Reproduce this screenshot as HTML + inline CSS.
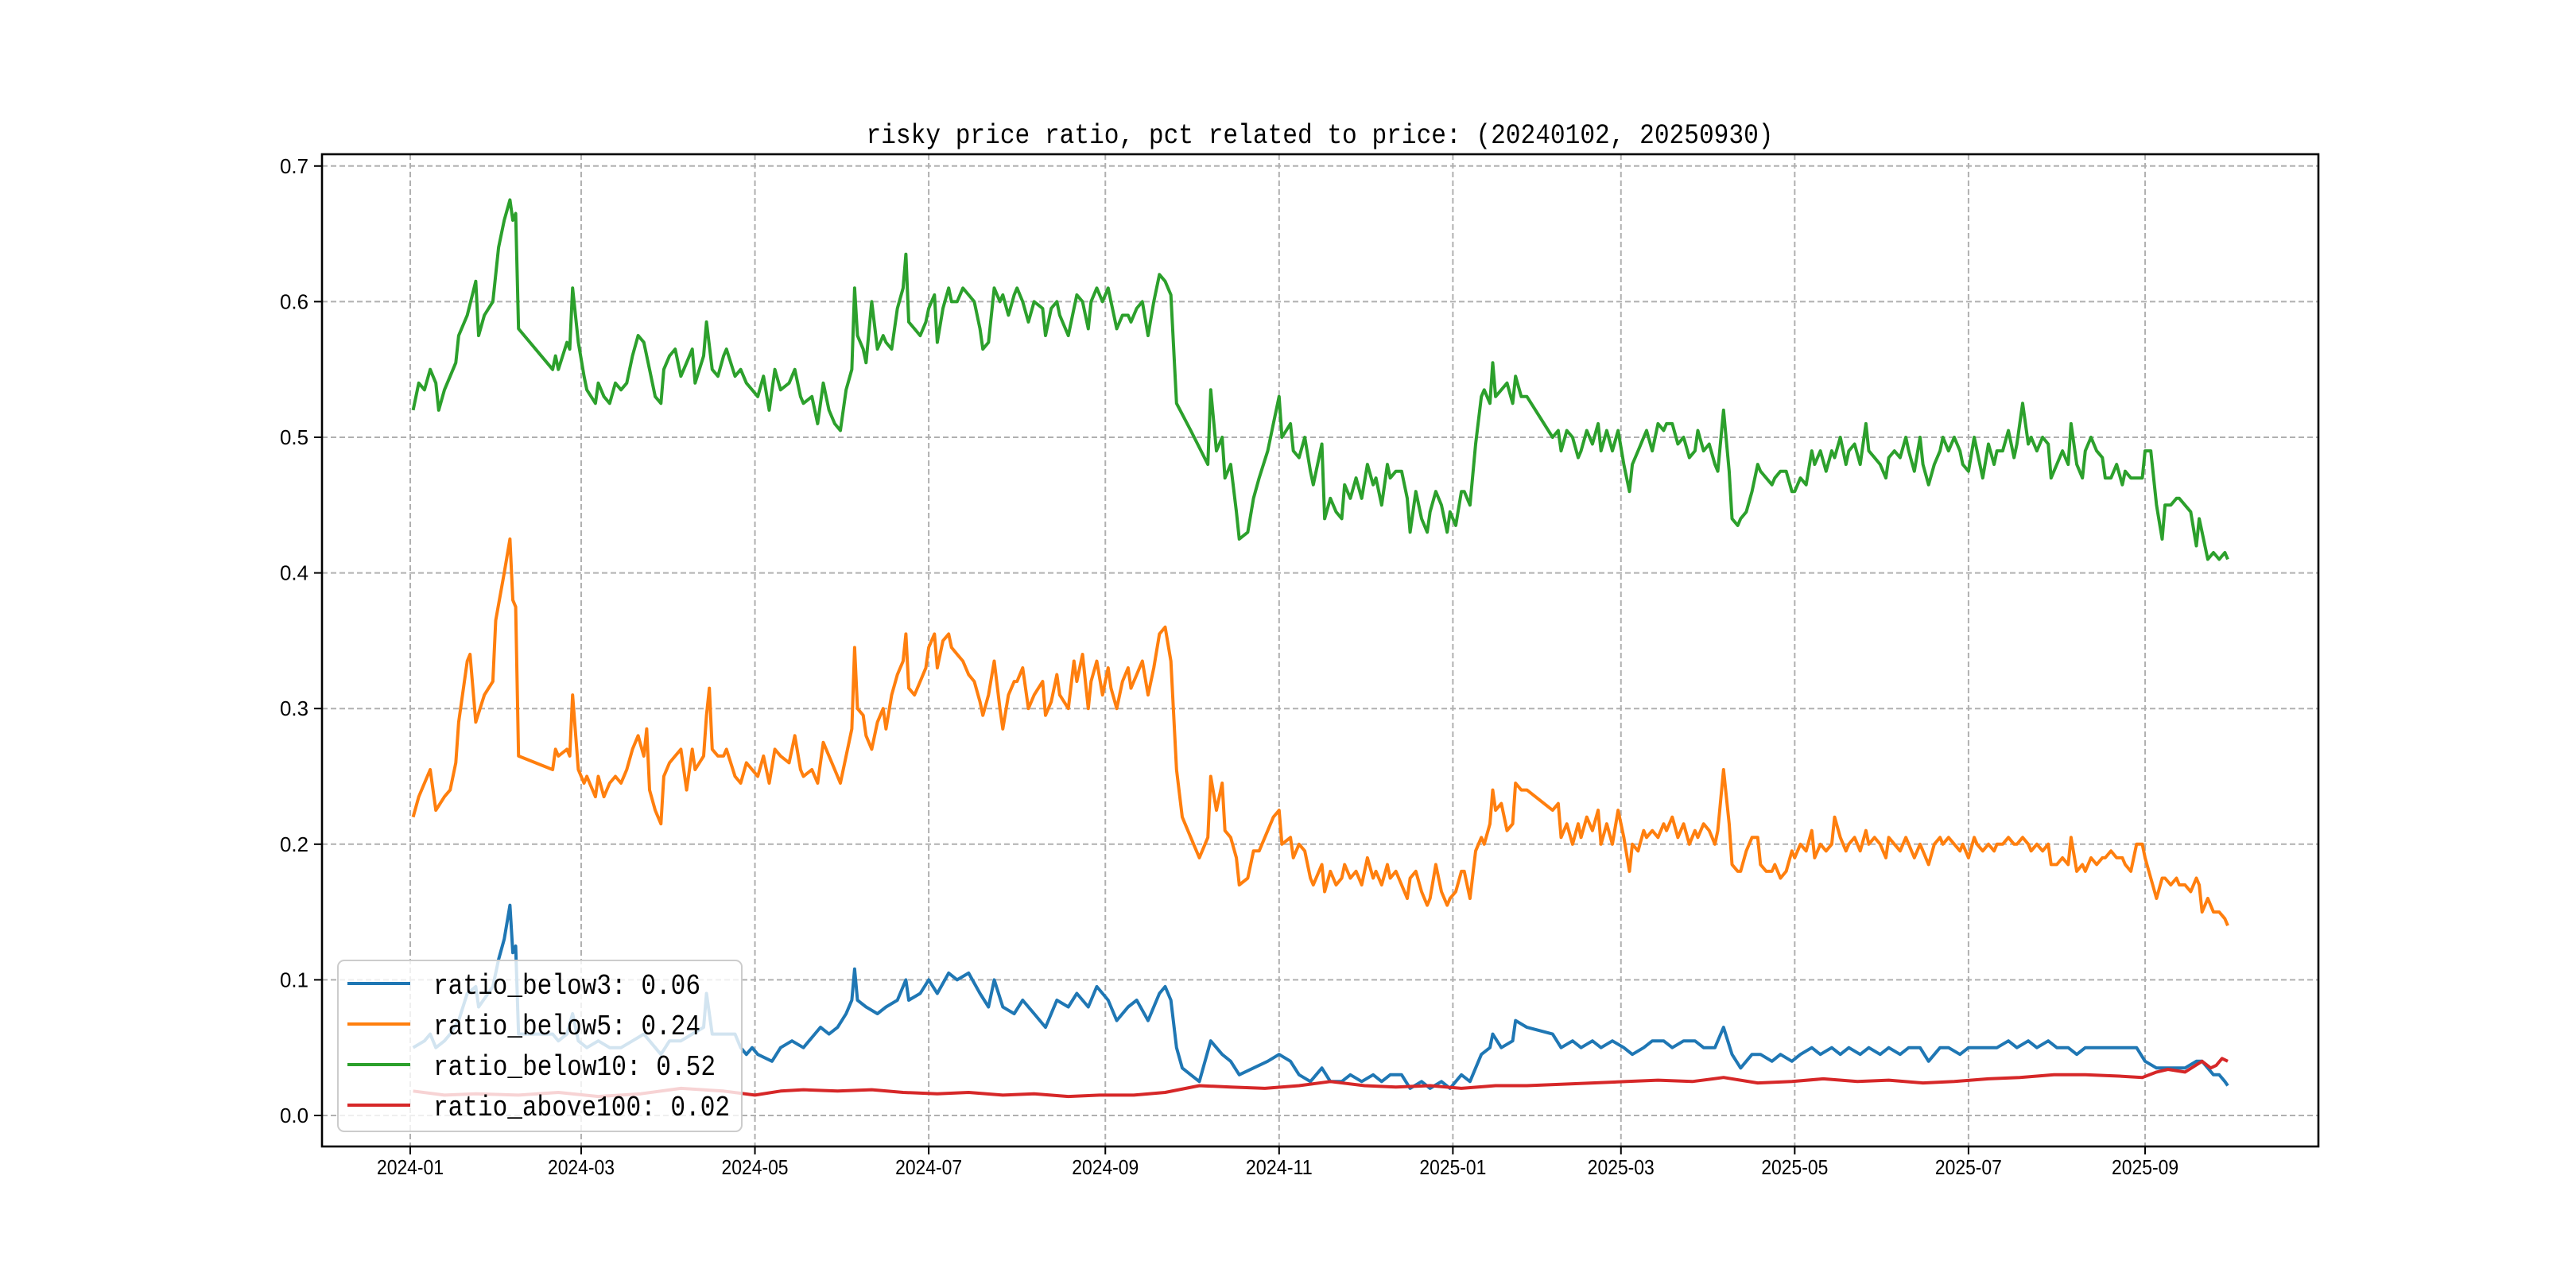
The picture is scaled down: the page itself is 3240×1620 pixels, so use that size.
<!DOCTYPE html>
<html><head><meta charset="utf-8"><style>html,body{margin:0;padding:0;background:#fff}svg{display:block}</style></head>
<body>
<svg id="chart" xmlns="http://www.w3.org/2000/svg" width="3240" height="1620" viewBox="0 0 3240 1620">
<rect width="3240" height="1620" fill="#fff"/>
<g id="grid"></g>
<g id="series"></g>
<rect x="405" y="194" width="2511" height="1248" fill="none" stroke="#000" stroke-width="2.6"/>
<g id="axes"></g>
<text x="1660" y="180" text-anchor="middle" font-family="Liberation Mono, monospace" font-size="35" textLength="1141" lengthAdjust="spacingAndGlyphs">risky price ratio, pct related to price: (20240102, 20250930)</text>
<g id="legend"></g>
</svg>
<script>
const yTicks = [0.0, 0.1, 0.2, 0.3, 0.4, 0.5, 0.6, 0.7];
const yTickLabels = ["0.0","0.1","0.2","0.3","0.4","0.5","0.6","0.7"];
const xTickDays = [0, 60, 121, 182, 244, 305, 366, 425, 486, 547, 609];
const xTickLabels = ["2024-01","2024-03","2024-05","2024-07","2024-09","2024-11","2025-01","2025-03","2025-05","2025-07","2025-09"];
const seriesNames = ["ratio_below3: 0.06","ratio_below5: 0.24","ratio_below10: 0.52","ratio_above100: 0.02"];

const greenDays = [1,3,5,7,9,10,12,14,16,17,20,23,24,26,29,31,33,35,36,37,38,50,51,52,55,56,57,59,61,62,65,66,68,70,72,74,76,78,80,82,84,86,88,89,91,93,95,97,99,100,103,104,106,108,110,111,114,116,118,120,122,124,126,128,130,133,135,137,138,141,143,145,147,149,151,153,155,156,157,159,160,162,164,166,167,169,171,173,174,175,177,179,181,182,184,185,187,189,190,192,194,196,198,200,201,203,205,207,208,210,212,213,215,217,219,222,223,225,227,228,231,233,234,236,238,239,241,243,245,246,248,250,252,253,255,257,259,261,263,265,267,269,274,280,281,283,285,286,288,290,291,294,296,298,301,303,305,306,309,310,312,314,316,317,320,321,323,325,327,328,330,332,334,336,338,339,341,343,344,346,348,350,351,353,355,357,358,360,362,364,365,367,369,370,372,374,376,377,379,380,381,383,385,387,388,390,392,401,403,404,406,408,410,411,413,415,417,418,420,422,424,426,428,429,431,433,434,436,438,440,441,443,445,447,449,451,452,454,456,458,459,461,463,464,466,467,469,471,473,474,476,478,479,481,483,485,486,488,490,492,493,495,497,499,500,502,504,505,507,509,511,512,514,516,518,519,521,523,525,526,528,530,531,533,535,537,538,540,542,544,545,547,549,550,552,554,556,557,559,561,563,564,566,568,569,571,573,575,576,578,580,582,583,585,587,588,590,592,594,595,597,599,601,602,604,606,608,609,611,613,615,616,618,620,621,623,625,627,628,629,631,633,635,637,638];
const greenVals = [.52,.54,.535,.55,.54,.52,.535,.545,.555,.575,.59,.615,.575,.59,.60,.64,.66,.675,.66,.665,.58,.55,.56,.55,.57,.565,.61,.57,.545,.535,.525,.54,.53,.525,.54,.535,.54,.56,.575,.57,.55,.53,.525,.55,.56,.565,.545,.555,.565,.54,.56,.585,.55,.545,.56,.565,.545,.55,.54,.535,.53,.545,.52,.55,.535,.54,.55,.53,.525,.53,.51,.54,.52,.51,.505,.535,.55,.61,.575,.565,.555,.60,.565,.575,.57,.565,.595,.61,.635,.585,.58,.575,.585,.595,.605,.57,.595,.61,.60,.60,.61,.605,.60,.58,.565,.57,.61,.60,.605,.59,.605,.61,.60,.585,.60,.595,.575,.595,.60,.59,.575,.595,.605,.60,.58,.60,.61,.60,.61,.60,.58,.59,.59,.585,.595,.60,.575,.60,.62,.615,.605,.525,.505,.48,.535,.49,.50,.47,.48,.445,.425,.43,.455,.47,.49,.51,.53,.50,.51,.49,.485,.50,.475,.465,.495,.44,.455,.445,.44,.465,.455,.47,.455,.48,.465,.47,.45,.48,.47,.475,.475,.455,.43,.46,.44,.43,.445,.46,.45,.43,.445,.435,.46,.46,.45,.495,.53,.535,.525,.555,.53,.535,.54,.525,.545,.53,.53,.50,.505,.49,.505,.50,.485,.49,.505,.495,.51,.49,.505,.49,.505,.48,.46,.48,.49,.50,.505,.49,.51,.505,.51,.51,.495,.50,.485,.49,.505,.49,.495,.48,.475,.52,.475,.44,.435,.44,.445,.46,.48,.475,.47,.465,.47,.475,.475,.46,.46,.47,.465,.49,.48,.49,.475,.49,.485,.50,.48,.49,.495,.48,.51,.49,.485,.48,.47,.485,.49,.485,.50,.49,.475,.50,.48,.465,.48,.49,.50,.49,.50,.49,.48,.475,.50,.49,.47,.495,.48,.49,.49,.505,.485,.495,.525,.495,.50,.49,.50,.495,.47,.48,.49,.48,.51,.48,.47,.49,.50,.49,.485,.47,.47,.48,.465,.475,.47,.47,.47,.49,.49,.45,.425,.45,.45,.455,.455,.45,.445,.42,.44,.43,.41,.415,.41,.415,.41,.40];

const orangeDays = [1,3,5,7,9,12,14,16,17,20,21,23,26,29,30,33,35,36,37,38,50,51,52,55,56,57,59,61,62,65,66,68,70,72,74,76,78,80,82,83,84,86,88,89,91,93,95,97,99,100,103,104,105,106,108,110,111,114,116,118,120,122,124,126,128,130,133,135,137,138,141,143,145,147,149,151,153,155,156,157,159,160,162,164,166,167,169,171,173,174,175,177,179,181,182,184,185,187,189,190,192,194,196,198,200,201,203,205,207,208,210,212,213,215,217,219,222,223,225,227,228,231,233,234,236,238,239,241,243,245,246,248,250,252,253,255,257,259,261,263,265,267,269,271,274,277,280,281,283,285,286,288,290,291,294,296,298,301,303,305,306,309,310,312,314,316,317,320,321,323,325,327,328,330,332,334,336,338,339,341,343,344,346,348,350,351,353,355,357,358,360,362,364,365,367,369,370,372,374,376,377,379,380,381,383,385,387,388,390,392,401,403,404,406,408,410,411,413,415,417,418,420,422,424,426,428,429,431,433,434,436,438,440,441,443,445,447,449,451,452,454,456,458,459,461,463,464,466,467,469,471,473,474,476,478,479,481,483,485,486,488,490,492,493,495,497,499,500,502,504,505,507,509,511,512,514,516,518,519,521,523,525,526,528,530,531,533,535,537,538,540,542,544,545,547,549,550,552,554,556,557,559,561,563,564,566,568,569,571,573,575,576,578,580,582,583,585,587,588,590,592,594,595,597,599,601,602,604,606,608,609,611,613,615,616,618,620,621,623,625,627,628,629,631,633,635,637,638];
const orangeVals = [.22,.235,.245,.255,.225,.235,.24,.26,.29,.335,.34,.29,.31,.32,.365,.40,.425,.38,.375,.265,.255,.27,.265,.27,.265,.31,.255,.245,.25,.235,.25,.235,.245,.25,.245,.255,.27,.28,.265,.285,.24,.225,.215,.25,.26,.265,.27,.24,.27,.255,.265,.295,.315,.27,.265,.265,.27,.25,.245,.26,.255,.25,.265,.245,.27,.265,.26,.28,.255,.25,.255,.245,.275,.265,.255,.245,.265,.285,.345,.30,.295,.28,.27,.29,.30,.285,.31,.325,.335,.355,.315,.31,.32,.33,.345,.355,.33,.35,.355,.345,.34,.335,.325,.32,.305,.295,.31,.335,.30,.285,.31,.32,.32,.33,.30,.31,.32,.295,.305,.325,.31,.30,.335,.32,.34,.30,.32,.335,.31,.33,.315,.30,.32,.33,.315,.325,.335,.31,.33,.355,.36,.335,.255,.22,.205,.19,.205,.25,.225,.245,.21,.205,.19,.17,.175,.195,.195,.21,.22,.225,.20,.205,.19,.20,.195,.175,.17,.185,.165,.18,.17,.175,.185,.175,.18,.17,.19,.175,.18,.17,.185,.175,.18,.17,.16,.175,.18,.165,.155,.16,.185,.165,.155,.16,.165,.18,.18,.16,.195,.205,.20,.215,.24,.225,.23,.21,.215,.245,.24,.24,.225,.23,.205,.215,.20,.215,.205,.22,.21,.225,.20,.215,.20,.225,.205,.18,.20,.195,.21,.205,.21,.205,.215,.21,.22,.205,.215,.20,.21,.205,.215,.21,.20,.21,.255,.215,.185,.18,.18,.195,.205,.205,.185,.18,.18,.185,.175,.18,.195,.19,.20,.195,.21,.19,.20,.195,.20,.22,.205,.195,.20,.205,.195,.21,.20,.205,.20,.19,.205,.20,.195,.205,.20,.19,.20,.195,.185,.20,.205,.20,.205,.20,.195,.20,.19,.205,.20,.195,.20,.195,.20,.20,.205,.20,.20,.205,.20,.195,.20,.195,.20,.185,.185,.19,.185,.205,.18,.185,.18,.19,.185,.19,.19,.195,.19,.19,.185,.18,.20,.20,.19,.175,.16,.175,.175,.17,.175,.17,.17,.165,.175,.17,.15,.16,.15,.15,.145,.14];

const blueDays = [1,5,7,9,12,14,17,20,23,24,29,31,33,35,36,37,38,50,52,55,57,59,62,66,70,74,78,82,84,88,91,95,99,103,104,106,110,114,116,118,120,122,127,130,134,138,142,144,147,150,153,155,156,157,160,164,167,171,174,175,179,182,185,189,192,196,200,203,205,208,212,215,219,223,227,231,234,238,241,245,248,252,255,259,263,265,267,269,271,274,277,281,285,288,291,296,301,305,309,312,316,320,323,327,330,334,338,341,344,348,351,355,358,362,365,369,372,374,376,379,380,383,387,388,392,401,404,408,411,415,418,422,426,429,433,436,440,443,447,451,454,458,461,464,467,471,474,478,481,485,488,492,495,499,502,505,509,512,516,519,523,526,530,533,537,540,544,547,550,554,557,561,564,568,571,575,578,582,585,588,592,595,599,602,606,609,613,616,620,623,627,629,631,633,635,637,638];
const blueVals = [.05,.055,.06,.05,.055,.06,.07,.09,.095,.08,.095,.115,.13,.155,.12,.125,.06,.06,.055,.06,.075,.055,.05,.055,.05,.05,.055,.06,.055,.045,.055,.055,.06,.065,.09,.06,.06,.06,.05,.045,.05,.045,.04,.05,.055,.05,.06,.065,.06,.065,.075,.085,.108,.085,.08,.075,.08,.085,.10,.085,.09,.10,.09,.105,.10,.105,.09,.08,.10,.08,.075,.085,.075,.065,.085,.08,.09,.08,.095,.085,.07,.08,.085,.07,.09,.095,.085,.05,.035,.03,.025,.055,.045,.04,.03,.035,.04,.045,.04,.03,.025,.035,.025,.025,.03,.025,.03,.025,.03,.03,.02,.025,.02,.025,.02,.03,.025,.035,.045,.05,.06,.05,.055,.07,.065,.06,.05,.055,.05,.055,.05,.055,.05,.045,.05,.055,.055,.05,.055,.055,.05,.05,.065,.045,.035,.045,.045,.04,.045,.04,.045,.05,.045,.05,.045,.05,.045,.05,.045,.05,.045,.05,.05,.04,.05,.05,.045,.05,.05,.05,.05,.055,.05,.055,.05,.055,.05,.05,.045,.05,.05,.05,.05,.05,.05,.04,.035,.035,.035,.035,.04,.04,.035,.03,.03,.025,.022];

const redDays = [1,12,23,38,52,66,81,95,110,121,130,138,150,162,173,185,196,208,219,231,242,254,265,277,288,300,312,323,335,346,358,369,381,392,404,415,427,438,450,461,473,485,496,508,519,531,542,554,565,577,588,600,608,613,617,623,629,632,634,636,638];
const redVals = [.018,.015,.016,.015,.017,.014,.016,.02,.018,.015,.018,.019,.018,.019,.017,.016,.017,.015,.016,.014,.015,.015,.017,.022,.021,.02,.022,.025,.022,.021,.022,.02,.022,.022,.023,.024,.025,.026,.025,.028,.024,.025,.027,.025,.026,.024,.025,.027,.028,.03,.03,.029,.028,.032,.034,.032,.04,.035,.037,.042,.04];

const colors = ["#1f77b4","#ff7f0e","#2ca02c","#d62728"];
const NS = "http://www.w3.org/2000/svg";
const L = 405, R = 2916, T = 194, B = 1442;
const x0 = 516, pxPerDay = 3.583;
function xScale(d){ return x0 + d * pxPerDay; }
function yScale(v){ return 1403 - v * 1706; }
function mk(tag, attrs, parent){ const e = document.createElementNS(NS, tag); for (const k in attrs) e.setAttribute(k, attrs[k]); parent.appendChild(e); return e; }

const grid = document.getElementById('grid');
const axes = document.getElementById('axes');
yTicks.forEach((v, i) => {
  const y = yScale(v);
  const g = mk('line', {x1:L, x2:R, y1:y, y2:y, stroke:'#b0b0b0', 'stroke-width':2, 'stroke-dasharray':'7,4'}, grid);
  
  
  const t = mk('line', {x1:L-10, x2:L, y1:y, y2:y, stroke:'#000', 'stroke-width':2}, axes);
  
  
  const lb = mk('text', {x:L-17, y:y+9, 'text-anchor':'end', 'font-family':'Liberation Sans, sans-serif', 'font-size':26, textLength:36, lengthAdjust:'spacingAndGlyphs'}, axes);
  lb.textContent = yTickLabels[i];
  
  
});
xTickDays.forEach((d, i) => {
  const x = xScale(d);
  const g = mk('line', {x1:x, x2:x, y1:T, y2:B, stroke:'#b0b0b0', 'stroke-width':2, 'stroke-dasharray':'7,4'}, grid);
  
  
  const t = mk('line', {x1:x, x2:x, y1:B, y2:B+10, stroke:'#000', 'stroke-width':2}, axes);
  
  
  const lb = mk('text', {x:x, y:1477, 'text-anchor':'middle', 'font-family':'Liberation Sans, sans-serif', 'font-size':26, textLength:84, lengthAdjust:'spacingAndGlyphs'}, axes);
  lb.textContent = xTickLabels[i];
  
  
});

const seriesLayer = document.getElementById('series');
const allDays = [blueDays, orangeDays, greenDays, redDays];
const allVals = [blueVals, orangeVals, greenVals, redVals];
const seriesIds = ['ratio-below3-line','ratio-below5-line','ratio-below10-line','ratio-above100-line'];
for (let s = 0; s < 4; s++) {
  const ds = allDays[s], vs = allVals[s];
  const n = Math.min(ds.length, vs.length);
  let p = '';
  for (let i = 0; i < n; i++) p += (i ? 'L' : 'M') + xScale(ds[i]).toFixed(1) + ',' + yScale(vs[i]).toFixed(1);
  const path = mk('path', {d:p, fill:'none', stroke:colors[s], 'stroke-width':4, 'stroke-linejoin':'round'}, seriesLayer);
  
  
}

const legend = document.getElementById('legend');
const box = mk('rect', {x:425, y:1208, width:508, height:215, rx:8, fill:'#fff', 'fill-opacity':0.8, stroke:'#cccccc', 'stroke-width':2}, legend);


const textLens = [336, 336, 355, 373];
seriesNames.forEach((name, i) => {
  const y = 1237 + i * 51;
  const ln = mk('line', {x1:437, x2:516, y1:y, y2:y, stroke:colors[i], 'stroke-width':4}, legend);
  
  
  const t = mk('text', {x:545, y:y+13, 'font-family':'Liberation Mono, monospace', 'font-size':36, textLength:textLens[i], lengthAdjust:'spacingAndGlyphs'}, legend);
  t.textContent = name;
  
  
});
</script>
</body></html>
